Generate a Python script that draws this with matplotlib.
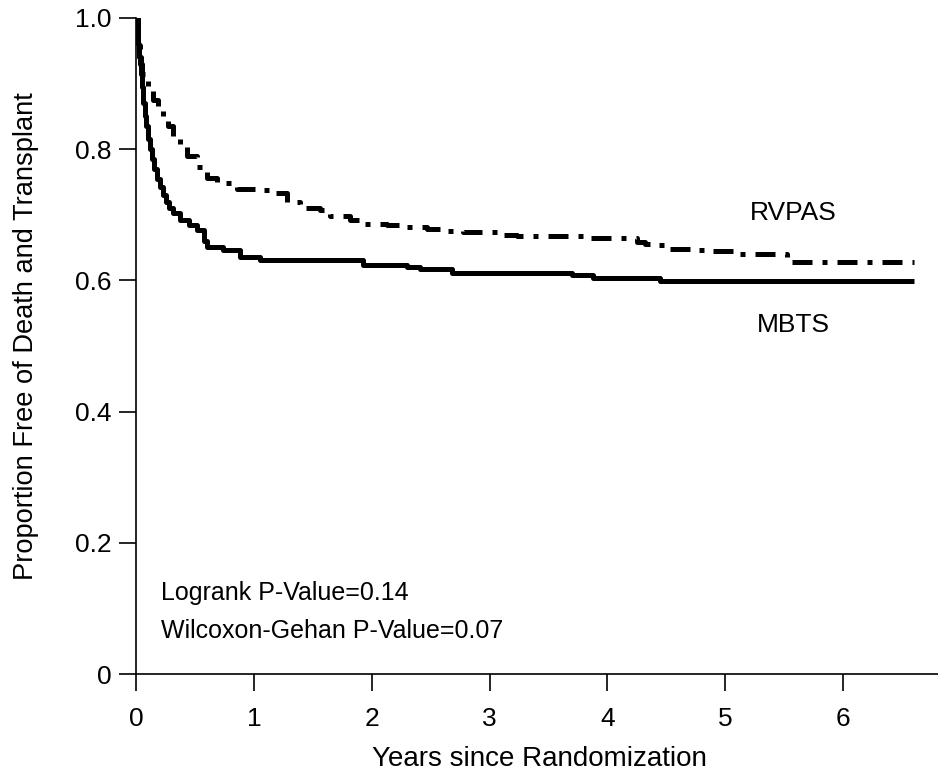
import numpy as np
import matplotlib
matplotlib.use("Agg")
import matplotlib.pyplot as plt

plt.rcParams['font.family'] = ['Liberation Sans', 'DejaVu Sans']

# Kaplan-Meier estimates (time in years, value after the step)
mbts_years = [0, 0.007, 0.015, 0.025, 0.035, 0.045, 0.058, 0.07, 0.08, 0.095, 0.115,
              0.13, 0.15, 0.175, 0.20, 0.225, 0.25, 0.28, 0.31, 0.37, 0.45, 0.51,
              0.57, 0.60, 0.735, 0.88, 1.05, 1.925, 2.30, 2.41, 2.68, 3.70, 3.88,
              4.45, 6.61]
mbts_surv = [1.0, 0.98, 0.96, 0.94, 0.915, 0.895, 0.87, 0.85, 0.835, 0.815, 0.80,
             0.785, 0.77, 0.755, 0.743, 0.73, 0.72, 0.71, 0.703, 0.692, 0.685, 0.677,
             0.66, 0.651, 0.646, 0.636, 0.631, 0.6235, 0.620, 0.617, 0.612, 0.608,
             0.604, 0.599, 0.599]

rvpas_years = [0, 0.01, 0.03, 0.05, 0.072, 0.10, 0.143, 0.18, 0.228, 0.27, 0.313,
               0.37, 0.427, 0.511, 0.596, 0.681, 0.851, 1.02, 1.13, 1.28, 1.39,
               1.56, 1.64, 1.81, 1.92, 2.13, 2.26, 2.47, 2.58, 2.77, 3.11, 3.23,
               3.79, 3.91, 4.25, 4.32, 4.43, 4.53, 4.73, 4.87, 5.07, 5.53, 6.61]
rvpas_surv = [1.0, 0.96, 0.93, 0.915, 0.905, 0.89, 0.875, 0.862, 0.850, 0.835, 0.819,
              0.805, 0.789, 0.773, 0.756, 0.748, 0.740, 0.738, 0.733, 0.720, 0.710,
              0.707, 0.698, 0.692, 0.686, 0.684, 0.681, 0.679, 0.675, 0.673, 0.669, 0.667,
              0.665, 0.664, 0.658, 0.656, 0.654, 0.648, 0.646, 0.645, 0.640, 0.628, 0.628]

x_ticks = [0, 1, 2, 3, 4, 5, 6]
y_ticks = [0, 0.2, 0.4, 0.6, 0.8, 1.0]
y_tick_labels = ['0', '0.2', '0.4', '0.6', '0.8', '1.0']

fig = plt.figure(figsize=(9.38, 7.81), dpi=100)
ax = fig.add_axes([0.1455, 0.137, 0.8545, 0.840])

ax.plot(mbts_years, mbts_surv, drawstyle='steps-post', color='black', lw=3.6,
        solid_capstyle='butt', solid_joinstyle='round')
ax.plot(rvpas_years, rvpas_surv, drawstyle='steps-post', color='black', lw=3.6,
        linestyle=(0, (4, 2, 1, 2)), dash_capstyle='butt')

ax.text(5.58, 0.703, 'RVPAS', fontsize=19, ha='center', va='center')
ax.text(5.58, 0.532, 'MBTS', fontsize=19, ha='center', va='center')
ax.text(0.21, 0.123, 'Logrank P-Value=0.14', fontsize=18, ha='left', va='center')
ax.text(0.21, 0.066, 'Wilcoxon-Gehan P-Value=0.07', fontsize=18, ha='left', va='center')

ax.set_xlim(0, 6.81)
ax.set_ylim(0, 1.0)
ax.set_xticks(x_ticks)
ax.set_yticks(y_ticks)
ax.set_yticklabels(y_tick_labels)
ax.tick_params(direction='out', length=12, width=1.2, labelsize=19, pad=6)
ax.tick_params(axis='x', pad=12)
for side in ['top', 'right']:
    ax.spines[side].set_visible(False)
for side in ['left', 'bottom']:
    ax.spines[side].set_linewidth(1.2)

# axis titles placed like the original
fig.text(539 / 938, 1 - 759 / 781, 'Years since Randomization', fontsize=20,
         ha='center', va='center')
fig.text(26 / 938, 1 - 336 / 781, 'Proportion Free of Death and Transplant',
         fontsize=19.6, rotation=90, ha='center', va='center')

fig.savefig('out.png', dpi=100)
